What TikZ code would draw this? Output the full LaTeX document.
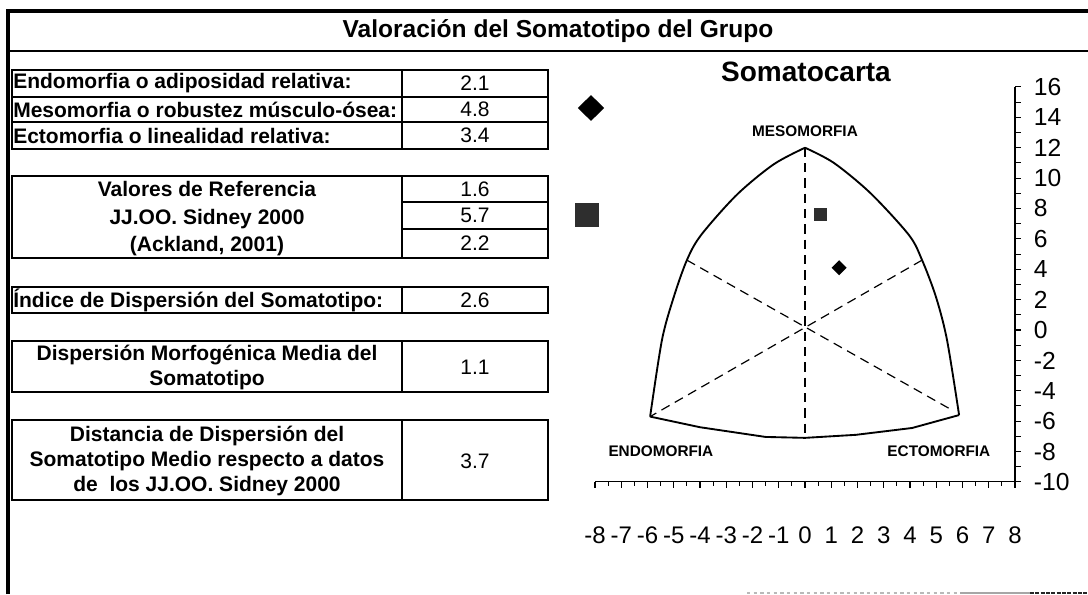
\documentclass[tikz,border=0pt]{standalone}
\usepackage{fontspec}
\setmainfont{Liberation Sans}
\usetikzlibrary{shapes.geometric}
\begin{document}
\begin{tikzpicture}[x=0.75pt,y=-0.75pt,
  box/.style={line width=1pt},
  lbl/.style={font=\fontsize{15.75pt}{18.75pt}\selectfont\bfseries, inner sep=0pt},
  ctr/.style={lbl, align=center},
  val/.style={font=\fontsize{15.75pt}{18pt}\selectfont, inner sep=0pt},
  outline/.style={line width=1.4pt, line join=round},
  guide/.style={line width=0.9pt, dash pattern=on 7pt off 4.5pt},
  axlbl/.style={font=\fontsize{18pt}{21pt}\selectfont, inner sep=0pt},
  ylbl/.style={font=\fontsize{18.5pt}{21pt}\selectfont, inner sep=0pt},
  corner/.style={font=\fontsize{11.5pt}{14pt}\selectfont\bfseries, inner sep=0pt},
  axis/.style={line width=0.8pt}]
\useasboundingbox (0,0) rectangle (1088,594);
\fill[white] (0,0) rectangle (1088,594);
% outer frame
\draw[line width=2.6pt] (8,594) -- (8,11) -- (1088,11);
\draw[line width=1.4pt] (8,51) -- (1088,51);
\node[font=\fontsize{18.4pt}{22pt}\selectfont\bfseries, inner sep=0pt] (title) at (558,31) {Valoración del Somatotipo del Grupo};
% group 1
\draw[box] (12,70) rectangle (548,149);
\draw[box] (402,70) -- (402,149) (12,97) -- (548,97) (12,122) -- (548,122);
\node[lbl, anchor=west] (endo) at (13,83.5) {Endomorfia o adiposidad relativa:};
\node[lbl, anchor=west] (meso) at (13,109.5) {Mesomorfia o robustez músculo-ósea:};
\node[lbl, anchor=west] (ecto) at (13,135.5) {Ectomorfia o linealidad relativa:};
\node[val] (v1) at (475,83.5) {2.1};
\node[val] (v2) at (475,109.5) {4.8};
\node[val] (v3) at (475,135.5) {3.4};
% group 2
\draw[box] (12,176) rectangle (548,258);
\draw[box] (402,176) -- (402,258) (402,202) -- (548,202) (402,229) -- (548,229);
\node[ctr, font=\fontsize{15.75pt}{20.6pt}\selectfont\bfseries] (ref) at (207,219) {Valores de Referencia\\JJ.OO. Sidney 2000\\(Ackland, 2001)};
\node[val] (r1) at (475,189) {1.6};
\node[val] (r2) at (475,215.5) {5.7};
\node[val] (r3) at (475,243.5) {2.2};
% group 3
\draw[box] (12,287) rectangle (548,313);
\draw[box] (402,287) -- (402,313);
\node[lbl, anchor=west] (ids) at (13,300) {Índice de Dispersión del Somatotipo:};
\node[val] (vids) at (475,300) {2.6};
% group 4
\draw[box] (12,341) rectangle (548,392);
\draw[box] (402,341) -- (402,392);
\node[ctr] (dmm) at (207,367) {Dispersión Morfogénica Media del\\Somatotipo};
\node[val] (vdmm) at (475,367) {1.1};
% group 5
\draw[box] (12,420) rectangle (548,500);
\draw[box] (402,420) -- (402,500);
\node[ctr] (dds) at (207,461) {Distancia de Dispersión del\\Somatotipo Medio respecto a datos\\de\ \ los JJ.OO. Sidney 2000};
\node[val] (vdds) at (475,461) {3.7};
% chart title and legend
\node[font=\fontsize{21pt}{24pt}\selectfont\bfseries, inner sep=0pt] (sc) at (806,72) {Somatocarta};
\node[diamond, fill=black, minimum width=20pt, minimum height=19.5pt, inner sep=0pt] (legd) at (591,108) {};
\node[fill=black!82, minimum size=18pt, inner sep=0pt] (legs) at (587,215) {};
% chart
\coordinate (O) at (805,330);
\begin{scope}[shift={(O)}, x=19.6875pt, y=11.3925pt]
  \coordinate (top) at (0,12);
  \coordinate (lc) at (-5.9,-5.7);
  \coordinate (rc) at (5.87,-5.6);
  \coordinate (lm) at (-4.5,4.6);
  \coordinate (rm) at (4.46,4.6);
  \coordinate (bot) at (0,-7.1);
  \draw[outline] plot[smooth, tension=0.5] coordinates {(-5.9,-5.7) (-5.45,-0.66) (-5.0,2.17) (-4.5,4.6) (-3.96,6.25) (-2.6,8.9) (-1.2,10.9) (0,12)};
  \draw[outline] plot[smooth, tension=0.5] coordinates {(0,12) (1.1,11.0) (2.5,9.0) (3.96,6.25) (4.46,4.6) (4.99,2.17) (5.41,-0.66) (5.87,-5.6)};
  \draw[outline] (lc) -- (-4.0,-6.4) -- (-1.5,-7.04) -- (bot) -- (1.94,-6.9) -- (4.08,-6.45) -- (rc);
  \draw[guide] (top) -- (bot);
  \draw[guide] (lm) -- (5.6,-5.27);
  \draw[guide] (rm) -- (lc);
  \node[corner] (lmeso) at (0,13.1) {MESOMORFIA};
  \node[corner] (lendo) at (-5.49,-8.0) {ENDOMORFIA};
  \node[corner] (lecto) at (5.1,-8.0) {ECTOMORFIA};
  \node[diamond, fill=black, minimum size=11.5pt, inner sep=0pt] (pd) at (1.3,4.1) {};
  \node[fill=black!82, minimum size=10pt, inner sep=0pt] (ps) at (0.6,7.6) {};
  % axes
  \draw[axis] (-8,-10) -- (8,-10);
  \draw[axis] (8,-10) -- (8,16);
  \foreach \v in {-10,...,16} {\draw[axis] (8,\v) -- ++(4.5pt,0);}
  \foreach \v in {-8,...,8} {\draw[axis] (\v,-10) -- ++(0,-4.5pt);}
  \foreach \v in {-7.5,-6.5,...,7.5} {\draw[axis] (\v,-10) -- ++(0,-3pt);}
  \foreach \v in {-10,-8,...,16} {\node[ylbl, anchor=west] (y\v) at ([xshift=14pt]8,\v) {\v};}
  \foreach \v in {-8,...,8} {\node[axlbl] (x\v) at (\v,-13.5) {\v};}
\end{scope}
% scan remnants at the bottom edge
\draw[gray!55, line width=0.8pt, dash pattern=on 2.5pt off 2.5pt] (747,593) -- (960,593);
\draw[gray!70, line width=0.8pt] (960,593) -- (1030,593);
\draw[black!85, line width=1pt, dash pattern=on 3pt off 1pt] (1030,593) -- (1088,593);
\end{tikzpicture}
\end{document}
